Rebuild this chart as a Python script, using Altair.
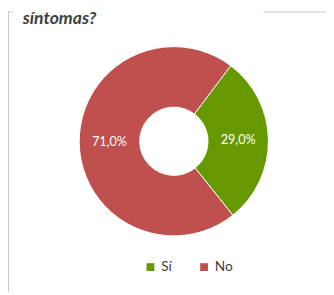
import math
import altair as alt
import pandas as pd

categories = ["Sí", "No"]
values = [29.0, 71.0]
labels = [f"{v:.1f}".replace(".", ",") + "%" for v in values]
title_text = "síntomas?"

GREEN = "#669900"
RED = "#c0504d"

df = pd.DataFrame({"cat": categories, "value": values, "label": labels, "idx": list(range(len(categories)))})

start = math.radians(37)
theta_scale = alt.Scale(range=[start, start + 2 * math.pi])
CX, CY = 170, 133

base = alt.Chart(df).encode(
    theta=alt.Theta("value:Q", stack=True, scale=theta_scale),
    order=alt.Order("idx:Q"),
)

arcs = base.mark_arc(outerRadius=97, innerRadius=35, stroke="white", strokeWidth=1).encode(
    x=alt.value(CX), y=alt.value(CY),
    color=alt.Color(
        "cat:N",
        sort=categories,
        scale=alt.Scale(domain=categories, range=[GREEN, RED]),
        legend=alt.Legend(
            orient="none", legendX=139, legendY=255, direction="horizontal", title=None,
            symbolType="square", symbolSize=64, symbolStrokeWidth=0, labelFontSize=14,
            labelFont="Lato", labelColor="#404040", columnPadding=26, labelOffset=4,
        ),
    ),
)

texts = base.mark_text(radius=66, fontSize=13, font="Lato", color="white").encode(
    x=alt.value(CX), y=alt.value(CY), text="label:N"
)

title = alt.Chart(pd.DataFrame({"t": [title_text]})).mark_text(
    fontSize=18, font="Lato", fontWeight="bold", fontStyle="italic", color="#404040",
    align="left", baseline="alphabetic",
).encode(x=alt.value(15), y=alt.value(13), text="t:N")

line_color = "#c8c8c8"
vline = alt.Chart(pd.DataFrame({"a": [0]})).mark_rule(color=line_color, strokeWidth=1).encode(
    x=alt.value(0.5), y=alt.value(0), y2=alt.value(287)
)
hline1 = alt.Chart(pd.DataFrame({"a": [0]})).mark_rule(color=line_color, strokeWidth=1).encode(
    x=alt.value(0), x2=alt.value(5), y=alt.value(0.5)
)
hline2 = alt.Chart(pd.DataFrame({"a": [0]})).mark_rule(color=line_color, strokeWidth=1).encode(
    x=alt.value(262), x2=alt.value(326), y=alt.value(0.5)
)

chart = alt.layer(arcs, texts, title, vline, hline1, hline2).properties(
    width=326, height=287, autosize=alt.AutoSizeParams(type="none"), padding=0
).configure_view(stroke=None)

chart.save("out.html", embed_options={"renderer": "svg", "actions": False})
